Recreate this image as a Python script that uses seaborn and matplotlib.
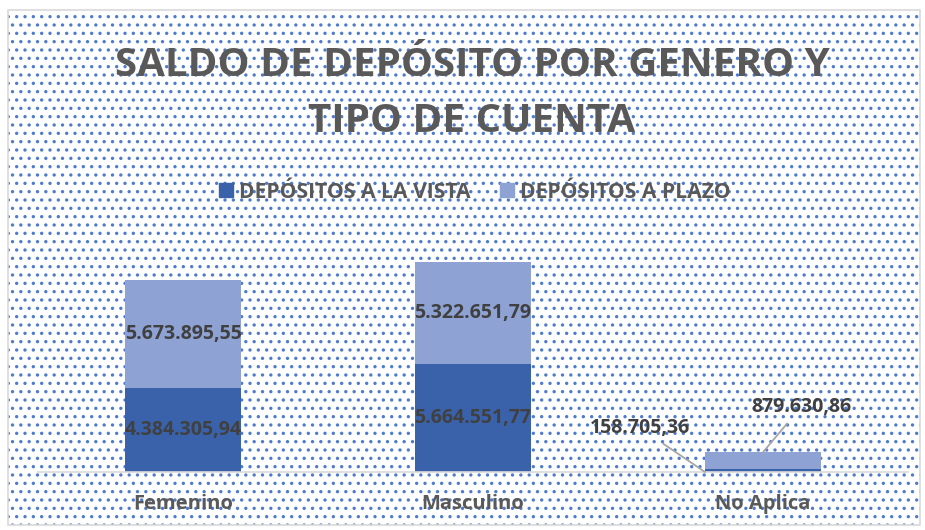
import pandas as pd
import seaborn as sns
from matplotlib import pyplot as plt
from matplotlib.patches import Rectangle, Patch

generos = ['Femenino', 'Masculino', 'No Aplica']
vista = [4384305.94, 5664551.77, 158705.36]
plazo = [5673895.55, 5322651.79, 879630.86]
etiq_vista = ['4.384.305,94', '5.664.551,77', '158.705,36']
etiq_plazo = ['5.673.895,55', '5.322.651,79', '879.630,86']

c_vista = '#3A62AB'
c_plazo = '#8EA2D4'
gris = '#595959'

df = pd.DataFrame({'genero': generos, 'vista': vista, 'plazo': plazo})
df['total'] = df['vista'] + df['plazo']

sns.set_style('white')
plt.rcParams['font.family'] = ['Open Sans', 'DejaVu Sans']
plt.rcParams['hatch.linewidth'] = 1.2

fig = plt.figure(figsize=(9.25, 5.3), dpi=100)
# fondo punteado del grafico
fondo = Rectangle((8 / 925, 5 / 530), 912 / 925, 515 / 530, transform=fig.transFigure,
                  facecolor='white', edgecolor='#4F7BCC', hatch='..', linewidth=0, zorder=-2)
fig.patches.append(fondo)
borde = Rectangle((8 / 925, 5 / 530), 912 / 925, 515 / 530, transform=fig.transFigure,
                  facecolor='none', edgecolor='#D9D9D9', linewidth=1.2, zorder=-1)
fig.patches.append(borde)

ax = fig.add_axes([38 / 925, 58 / 530, 870 / 925, 229 / 530])
ax.patch.set_alpha(0)

sns.barplot(data=df, x='genero', y='total', color=c_plazo, width=0.4, saturation=1,
            linewidth=0, ax=ax)
sns.barplot(data=df, x='genero', y='vista', color=c_vista, width=0.4, saturation=1,
            linewidth=0, ax=ax)

ax.set_xlim(-0.5, 2.5)
ax.set_ylim(0, 12000000)
ax.set_yticks([])
ax.set_xlabel('')
ax.set_ylabel('')
for s in ['top', 'right', 'left']:
    ax.spines[s].set_visible(False)
ax.spines['bottom'].set_color('#D9D9D9')
ax.spines['bottom'].set_linewidth(1.2)
ax.set_xticks([0, 1, 2])
ax.set_xticklabels(generos, fontsize=14.5, fontweight='bold', color=gris)
ax.tick_params(axis='x', length=0, pad=16)
ax.set_xticks([-0.5, 0.5, 1.5, 2.5], minor=True)
ax.tick_params(axis='x', which='minor', length=5, color='#D9D9D9', width=1.2)

# etiquetas de datos
for i in range(2):
    ax.text(i, vista[i] / 2, etiq_vista[i], ha='center', va='center', fontsize=14,
            fontweight='bold', color='#404040')
    ax.text(i, vista[i] + plazo[i] / 2, etiq_plazo[i], ha='center', va='center', fontsize=14,
            fontweight='bold', color='#404040')
# No Aplica con lineas guia
ax.annotate(etiq_vista[2], xy=(1.8, 0), xytext=(1.576, 2306000), ha='center', va='center',
            fontsize=14, fontweight='bold', color='#404040',
            arrowprops=dict(arrowstyle='-', color='#A6A6A6', lw=1.3, shrinkA=3, shrinkB=0))
ax.annotate(etiq_plazo[2], xy=(2.0, vista[2] + plazo[2]), xytext=(2.131, 3406000), ha='center', va='center',
            fontsize=14, fontweight='bold', color='#404040',
            arrowprops=dict(arrowstyle='-', color='#A6A6A6', lw=1.3, shrinkA=3, shrinkB=0))

fig.text(472 / 925, 465 / 530, 'SALDO DE DEPÓSITO POR GENERO Y', ha='center', va='center',
         fontsize=29, fontweight='bold', color=gris)
fig.text(472 / 925, 408 / 530, 'TIPO DE CUENTA', ha='center', va='center',
         fontsize=29, fontweight='bold', color=gris)

handles = [Patch(color=c_vista, label='DEPÓSITOS A LA VISTA'),
           Patch(color=c_plazo, label='DEPÓSITOS A PLAZO')]
leg = fig.legend(handles=handles, loc='center', bbox_to_anchor=(475 / 925, 338 / 530), ncol=2,
                 frameon=False, handlelength=0.65, handleheight=0.65, handletextpad=0.3,
                 columnspacing=1.4, prop={'size': 15.2, 'weight': 'bold'})
for t in leg.get_texts():
    t.set_color(gris)

fig.savefig('out.png', dpi=100)
